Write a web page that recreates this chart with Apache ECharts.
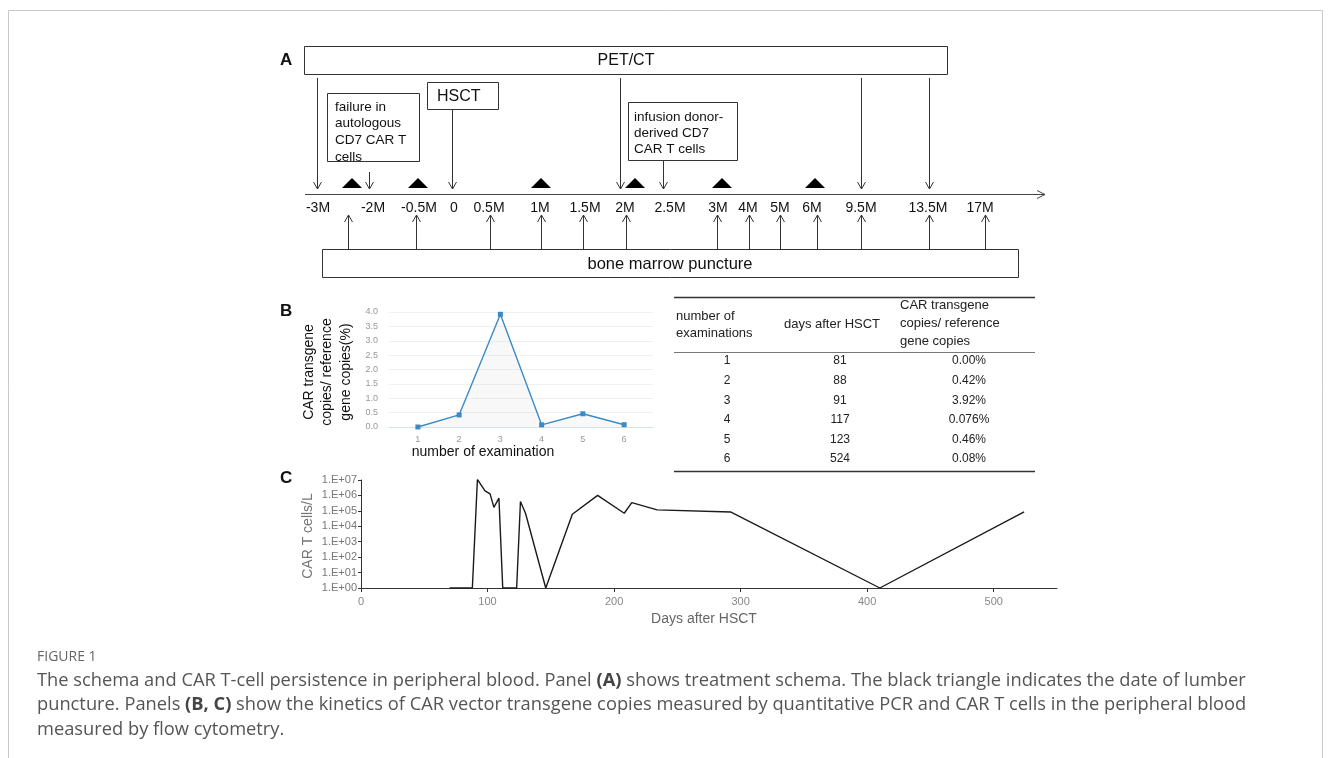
<!DOCTYPE html>
<html>
<head>
<meta charset="utf-8">
<script src="https://cdn.jsdelivr.net/npm/echarts@6/dist/echarts.min.js"></script>
<style>
  html, body { margin: 0; padding: 0; background: #fff; }
  #chart { width: 1331px; height: 758px; }
</style>
</head>
<body>
<div id="chart"></div>
<script>
// ---- Panel A: treatment timeline (months relative to HSCT) ----
const timelineLabels = ['-3M', '-2M', '-0.5M', '0', '0.5M', '1M', '1.5M', '2M', '2.5M', '3M', '4M', '5M', '6M', '9.5M', '13.5M', '17M'];
const petLabel = 'PET/CT';
const marrowLabel = 'bone marrow puncture';
const failureLines = ['failure in', 'autologous', 'CD7 CAR T', 'cells'];
const hsctLabel = 'HSCT';
const infusionLines = ['infusion donor-', 'derived CD7', 'CAR T cells'];

// ---- Panel B and table: CAR transgene copies by qPCR ----
const examNumbers = [1, 2, 3, 4, 5, 6];
const daysAfterHSCT = [81, 88, 91, 117, 123, 524];
const copiesLabels = ['0.00%', '0.42%', '3.92%', '0.076%', '0.46%', '0.08%'];
const copiesPct = copiesLabels.map(parseFloat);
const tableHeaders = [['number of', 'examinations'], ['days after HSCT'], ['CAR transgene', 'copies/ reference', 'gene copies']];

// ---- Panel C: CAR T cells/L in peripheral blood (flow cytometry) ----
const carDays  = [70, 88, 92, 98, 102, 105, 109, 112, 123, 126, 130, 146, 167, 187, 208, 214, 234, 292, 410, 524];
const carCells = [1, 1, 1.1e7, 2e6, 1.25e6, 1.7e5, 6.6e5, 1, 1, 4e5, 7e4, 1, 6e4, 1e6, 7e4, 3.4e5, 1.15e5, 8.5e4, 1, 8.5e4];
const dayTicks = [0, 100, 200, 300, 400, 500];

// ---- schema layout (pixel positions along the timeline) ----
const layout = {
  axisY: 194,
  labelX: [318, 373, 419, 454, 489, 540, 585, 625, 670, 718, 748, 780, 812, 861, 928, 980],
  petX: [317, 620, 861, 929],
  marrowX: [348, 416, 490, 541, 583, 626, 717, 749, 780, 817, 861, 929, 985],
  lumbarX: [352, 418, 541, 635, 722, 815]
};

const ARIAL = '"Liberation Sans", Arial, sans-serif';
const ink = '#333';
const g = [];
const rect = (x, y, w, h, stroke = ink, lw = 1) =>
  g.push({ type: 'rect', silent: true, shape: { x, y, width: w, height: h }, style: { fill: 'none', stroke, lineWidth: lw } });
const seg = (x1, y1, x2, y2, stroke = ink, lw = 1) =>
  g.push({ type: 'line', silent: true, shape: { x1, y1, x2, y2 }, style: { stroke, lineWidth: lw } });
const head = (pts, stroke = ink) =>
  g.push({ type: 'polyline', silent: true, shape: { points: pts }, style: { stroke, fill: 'none', lineWidth: 1 } });
const txt = (s, x, y, o = {}) =>
  g.push({
    type: 'text', silent: true, x, y, rotation: o.rot || 0,
    style: {
      text: s, x: 0, y: 0,
      font: o.font || ('13px ' + ARIAL), fill: o.fill || '#111',
      textAlign: o.align || 'left', textVerticalAlign: o.va || 'middle',
      rich: o.rich
    }
  });
const downArrow = (x, top, bottom) => {
  seg(x + 0.5, top, x + 0.5, bottom);
  head([[x - 3.5, bottom - 7], [x + 0.5, bottom], [x + 4.5, bottom - 7]]);
};
const upArrow = (x, bottom, top) => {
  seg(x + 0.5, bottom, x + 0.5, top);
  head([[x - 3.5, top + 7], [x + 0.5, top], [x + 4.5, top + 7]]);
};

// outer frame
rect(8.5, 10.5, 1314, 800, '#c9c9c9', 1);

// panel letters
txt('A', 280, 60, { font: 'bold 17px ' + ARIAL });
txt('B', 280, 311, { font: 'bold 17px ' + ARIAL });
txt('C', 280, 478, { font: 'bold 17px ' + ARIAL });

// ---- Panel A ----
const ay = layout.axisY;
rect(304.5, 46.5, 643, 28);
txt(petLabel, 626, 60.5, { font: '16px ' + ARIAL, align: 'center' });
layout.petX.forEach(x => downArrow(x, 78, ay - 5));

rect(327.5, 93.5, 92, 68);
failureLines.forEach((s, i) => txt(s, 335, 107 + i * 16.7, { font: '13.5px ' + ARIAL }));
downArrow(369, 172, ay - 5);

rect(427.5, 82.5, 71, 27);
txt(hsctLabel, 437, 96.5, { font: '16px ' + ARIAL });
downArrow(452, 110, ay - 5);

rect(628.5, 102.5, 109, 58);
infusionLines.forEach((s, i) => txt(s, 634, 117 + i * 16.2, { font: '13.5px ' + ARIAL }));
downArrow(663, 161, ay - 5);

// lumbar puncture markers
layout.lumbarX.forEach(x => g.push({
  type: 'polygon', silent: true,
  shape: { points: [[x - 10, ay - 6], [x, ay - 16], [x + 10, ay - 6]] },
  style: { fill: '#000' }
}));

// timeline axis with arrow
seg(305, ay + 0.5, 1045, ay + 0.5, '#444', 1.2);
head([[1037, ay - 3.5], [1045, ay + 0.5], [1037, ay + 4.5]], '#444');
timelineLabels.forEach((s, i) => txt(s, layout.labelX[i], 208, { font: '14px ' + ARIAL, align: 'center' }));

// bone marrow punctures
rect(322.5, 249.5, 696, 28);
txt(marrowLabel, 670, 264, { font: '16.5px ' + ARIAL, align: 'center' });
layout.marrowX.forEach(x => upArrow(x, 249, 215));

// ---- Panel B titles ----
['CAR transgene', 'copies/ reference', 'gene copies(%)'].forEach((s, i) =>
  txt(s, 309 + i * 18.5, 372, { font: '14px ' + ARIAL, align: 'center', rot: Math.PI / 2 }));
txt('number of examination', 483, 452, { font: '14px ' + ARIAL, align: 'center' });

// ---- table ----
seg(674, 297.5, 1035, 297.5, '#333', 1.5);
seg(674, 352.5, 1035, 352.5, '#777', 1);
seg(674, 471.5, 1035, 471.5, '#333', 1.5);
tableHeaders[0].forEach((s, i) => txt(s, 676, 316 + i * 17, { font: '13px ' + ARIAL, fill: '#222' }));
txt(tableHeaders[1][0], 832, 324, { font: '13px ' + ARIAL, fill: '#222', align: 'center' });
tableHeaders[2].forEach((s, i) => txt(s, 900, 305 + i * 18, { font: '13px ' + ARIAL, fill: '#222' }));
examNumbers.forEach((n, i) => {
  const y = 361 + i * 19.6;
  txt(String(n), 727, y, { font: '12px ' + ARIAL, fill: '#222', align: 'center' });
  txt(String(daysAfterHSCT[i]), 840, y, { font: '12px ' + ARIAL, fill: '#222', align: 'center' });
  txt(copiesLabels[i], 969, y, { font: '12px ' + ARIAL, fill: '#222', align: 'center' });
});

// ---- Panel C titles ----
txt('CAR T cells/L', 308, 536, { font: '14px ' + ARIAL, fill: '#777', align: 'center', rot: Math.PI / 2 });
txt('Days after HSCT', 704, 619, { font: '14px ' + ARIAL, fill: '#666', align: 'center' });

// ---- caption ----
const CAP = '"Open Sans", sans-serif';
txt('FIGURE 1', 37, 657, { font: '14px ' + CAP, fill: '#666' });
const capRich = { b: { font: 'bold 18.3px ' + CAP, fill: '#444' } };
const capLines = [
  'The schema and CAR T-cell persistence in peripheral blood. Panel {b|(A)} shows treatment schema. The black triangle indicates the date of lumber',
  'puncture. Panels {b|(B, C)} show the kinetics of CAR vector transgene copies measured by quantitative PCR and CAR T cells in the peripheral blood',
  'measured by flow cytometry.'
];
capLines.forEach((s, i) => txt(s, 37, 680.5 + i * 24.5, { font: '18.3px ' + CAP, fill: '#555', rich: capRich }));

const chart = echarts.init(document.getElementById('chart'), null, { renderer: 'canvas' });
chart.setOption({
  animation: false,
  backgroundColor: '#fff',
  grid: [
    { left: 389, top: 312, width: 264, height: 115, outerBoundsMode: 'none' },
    { left: 361, top: 480, width: 696, height: 108, outerBoundsMode: 'none' }
  ],
  xAxis: [
    {
      gridIndex: 0, type: 'value', min: 0.3, max: 6.7, offset: 3,
      axisLine: { lineStyle: { color: '#d3e1ed', width: 1 } },
      axisTick: { show: false },
      splitLine: { show: false },
      axisLabel: { customValues: examNumbers, color: '#999', fontSize: 9, fontFamily: ARIAL, margin: 5 }
    },
    {
      gridIndex: 1, type: 'value', min: 0, max: 550,
      axisLine: { onZero: false, lineStyle: { color: '#333', width: 1 } },
      axisTick: { customValues: dayTicks, length: 4, lineStyle: { color: '#333' } },
      splitLine: { show: false },
      axisLabel: { customValues: dayTicks, color: '#888', fontSize: 11, fontFamily: ARIAL, margin: 8 }
    }
  ],
  yAxis: [
    {
      gridIndex: 0, type: 'value', min: 0, max: 4, interval: 0.5,
      axisLine: { show: false }, axisTick: { show: false },
      splitLine: { lineStyle: { color: '#edf1f5', width: 1 } },
      axisLabel: { color: '#999', fontSize: 9, fontFamily: ARIAL, margin: 11, formatter: v => v.toFixed(1) }
    },
    {
      gridIndex: 1, type: 'log', logBase: 10, min: 1, max: 1e7, splitNumber: 7,
      axisLine: { show: true, lineStyle: { color: '#333', width: 1 } },
      axisTick: { show: true, length: 3, lineStyle: { color: '#333' } },
      splitLine: { show: false },
      axisLabel: {
        color: '#777', fontSize: 11, fontFamily: ARIAL, margin: 4,
        formatter: v => '1.E+' + String(Math.round(Math.log10(v))).padStart(2, '0')
      }
    }
  ],
  series: [
    {
      type: 'line', xAxisIndex: 0, yAxisIndex: 0, silent: true,
      data: examNumbers.map((n, i) => [n, copiesPct[i]]),
      symbol: 'rect', symbolSize: 5, showAllSymbol: true,
      lineStyle: { color: '#3a8ac6', width: 1.4 },
      itemStyle: { color: '#3a8ac6' },
      areaStyle: { color: 'rgba(160,160,160,0.10)' }
    },
    {
      type: 'line', xAxisIndex: 1, yAxisIndex: 1, silent: true,
      data: carDays.map((d, i) => [d, carCells[i]]),
      symbol: 'none',
      lineStyle: { color: '#1a1a1a', width: 1.4 }
    }
  ],
  graphic: { elements: g }
});
</script>
</body>
</html>
